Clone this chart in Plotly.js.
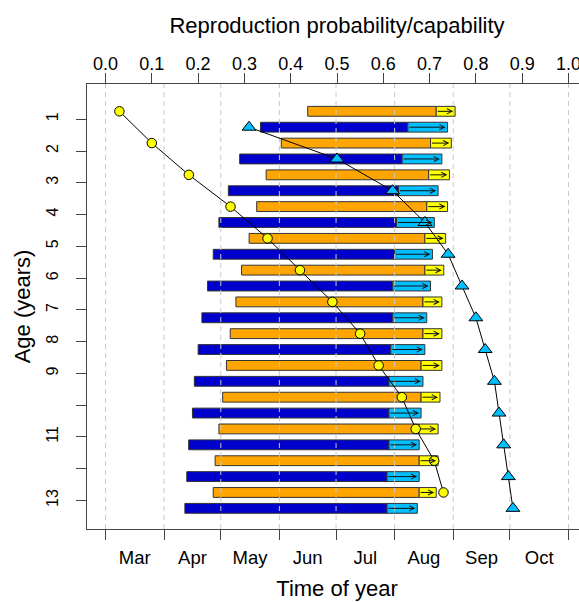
<!DOCTYPE html>
<html><head><meta charset="utf-8">
<script src="https://cdn.plot.ly/plotly-3.0.1.min.js"></script>
<style>html,body{margin:0;padding:0;overflow:hidden;background:#fff}#chart{width:600px;height:602px}</style>
</head><body><div id="chart"></div>
<script>
// ---- data ----
const ages = [1,2,3,4,5,6,7,8,9,10,11,12,13];
const ageTickText = ['1','2','3','4','5','6','7','8','9','','11','','13'];
const monthLabels = ['Mar','Apr','May','Jun','Jul','Aug','Sep','Oct'];
const monthStarts = ['03-01','04-01','05-01','06-01','07-01','08-01','09-01','10-01','11-01'];
const probTicks = [0,0.1,0.2,0.3,0.4,0.5,0.6,0.7,0.8,0.9,1.0];

// orange / yellow bars (upper bar of each age)
const orangeStart = ['06-16','06-02','05-25','05-20','05-16','05-12','05-09','05-06','05-04','05-02','04-30','04-28','04-27'];
const orangeEnd   = ['08-23','08-20','08-19','08-18','08-17','08-17','08-16','08-16','08-15','08-15','08-14','08-14','08-14'];
const yellowEnd   = ['09-02','08-31','08-30','08-29','08-28','08-27','08-26','08-26','08-26','08-25','08-24','08-24','08-23'];
// dark blue / light blue bars (lower bar of each age)
const blueStart   = ['05-22','05-11','05-05','04-30','04-27','04-24','04-21','04-19','04-17','04-16','04-14','04-13','04-12'];
const blueEnd     = ['08-08','08-05','08-03','08-02','08-01','07-31','07-31','07-30','07-29','07-29','07-29','07-28','07-28'];
const lightBlueEnd= ['08-29','08-26','08-24','08-22','08-21','08-20','08-18','08-17','08-16','08-15','08-14','08-14','08-13'];
// reproduction probability (circles) and capability (triangles)
const circleProb   = [0.03,0.10,0.18,0.27,0.35,0.42,0.49,0.55,0.59,0.64,0.67,0.71,0.73];
const triangleProb = [0.31,0.50,0.62,0.69,0.74,0.77,0.80,0.82,0.84,0.85,0.86,0.87,0.88];

// ---- helpers ----
const day = s => { const [m,d] = s.split('-').map(Number); return (Date.UTC(2001,m-1,d) - Date.UTC(2001,2,1)) / 864e5; };
const D = a => a.map(day);
const span = (a,b) => D(b).map((v,i) => v - D(a)[i]);
const yOr = ages.map(a => a - 0.25);
const yBl = ages.map(a => a + 0.25);
const startDays = D(monthStarts);
const total = startDays[startDays.length-1];
const xRange = [-0.04*total, 1.04*total];
const yRange = [13.9, -0.11];
const mids = monthLabels.map((_,i) => (startDays[i] + startDays[i+1]) / 2);

const barLine = {color:'#333', width:1};
function bar(base, len, y, color){
  return {type:'bar', orientation:'h', y:y, base:base, x:len, width:0.31,
    marker:{color:color, line:barLine}, hoverinfo:'skip', xaxis:'x', yaxis:'y'};
}
const traces = [
  bar(D(orangeStart), span(orangeStart, orangeEnd), yOr, '#FFA500'),
  bar(D(orangeEnd), span(orangeEnd, yellowEnd), yOr, '#FFFF00'),
  bar(D(blueStart), span(blueStart, blueEnd), yBl, '#0000CD'),
  bar(D(blueEnd), span(blueEnd, lightBlueEnd), yBl, '#00BFFF')
];
// dashed month grid drawn over bars
const gx = [], gy = [];
startDays.forEach(v => { gx.push(v, v, null); gy.push(yRange[0], yRange[1], null); });
traces.push({type:'scatter', mode:'lines', x:gx, y:gy, xaxis:'x', yaxis:'y',
  line:{color:'#c8c8c8', width:1, dash:'5px,4px'}, hoverinfo:'skip'});
traces.push({type:'scatter', mode:'lines+markers', x:circleProb, y:yOr, xaxis:'x2', yaxis:'y',
  line:{color:'#000', width:1}, marker:{symbol:'circle', size:9.5, color:'#FFFF00', line:{color:'#000', width:1}}});
traces.push({type:'scatter', mode:'lines+markers', x:triangleProb, y:yBl, xaxis:'x2', yaxis:'y',
  line:{color:'#000', width:1}, marker:{symbol:'triangle-up', size:12, color:'#00BFFF', line:{color:'#000', width:1}}});

const annotations = [];
function arrows(from, to, y){
  D(from).forEach((s,i) => {
    annotations.push({xref:'x', yref:'y', axref:'x', ayref:'y', x:D(to)[i], y:y[i], ax:s, ay:y[i],
      text:'', showarrow:true, arrowhead:5, arrowsize:1, arrowwidth:1, arrowcolor:'#111', standoff:2});
  });
}
arrows(orangeEnd, yellowEnd, yOr);
arrows(blueEnd, lightBlueEnd, yBl);

const axCol = '#444';
const layout = {
  width:600, height:602,
  margin:{l:87, r:13, t:84, b:73},
  showlegend:false, barmode:'overlay',
  paper_bgcolor:'#fff', plot_bgcolor:'#fff',
  font:{family:'Liberation Sans, Arial, sans-serif', color:'#000'},
  xaxis:{range:xRange, autorange:false, tickmode:'array', tickvals:mids, ticktext:monthLabels,
    ticks:'', showline:true, linecolor:axCol, linewidth:1, mirror:true, showgrid:false, zeroline:false,
    tickfont:{size:18.5}, ticklabelstandoff:12,
    minor:{tickmode:'array', tickvals:startDays, ticks:'outside', ticklen:10, tickcolor:axCol, tickwidth:1, showgrid:false},
    title:{text:'Time of year', font:{size:22}, standoff:13}},
  xaxis2:{overlaying:'x', side:'top', anchor:'y', range:[-0.04,1.04], autorange:false,
    tickmode:'array', tickvals:probTicks, ticktext:probTicks.map(v => v.toFixed(1)),
    ticks:'outside', ticklen:10, tickcolor:axCol, showline:false, showgrid:false, zeroline:false,
    tickfont:{size:18}, ticklabelstandoff:-4,
    title:{text:'Reproduction probability/capability', font:{size:22}, standoff:14}},
  yaxis:{range:yRange, autorange:false, tickmode:'array', tickvals:ages, ticktext:ageTickText,
    tickangle:-90, ticks:'outside', ticklen:10, tickcolor:axCol, showline:true, linecolor:axCol, linewidth:1,
    mirror:true, showgrid:false, zeroline:false, tickfont:{size:16}, ticklabelstandoff:12,
    title:{text:'Age (years)', font:{size:22}, standoff:6}},
  annotations:annotations
};
Plotly.newPlot('chart', traces, layout, {staticPlot:true, displayModeBar:false});
</script></body></html>
